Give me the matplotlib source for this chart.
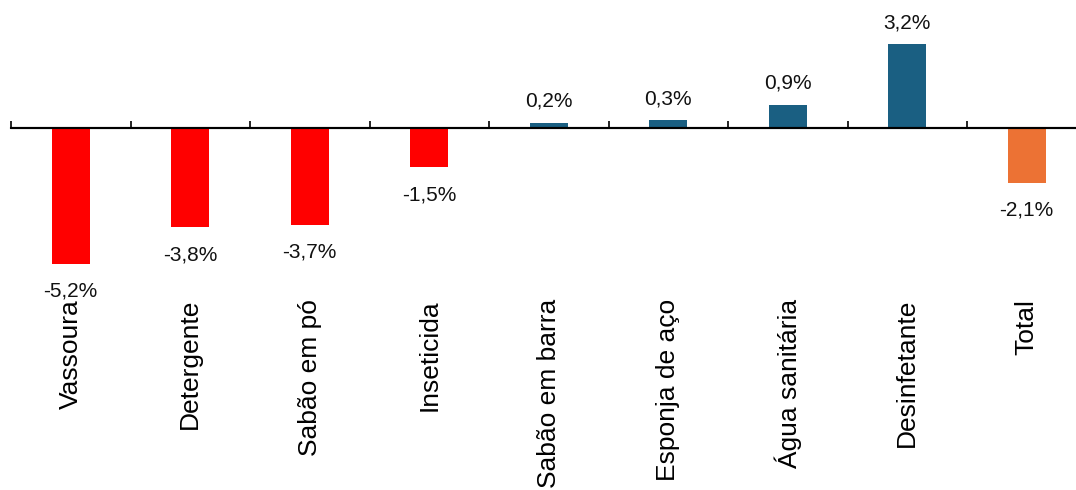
import matplotlib
matplotlib.use("Agg")
import matplotlib.pyplot as plt
from matplotlib.transforms import blended_transform_factory

categories = ["Vassoura", "Detergente", "Sabão em pó", "Inseticida", "Sabão em barra",
              "Esponja de aço", "Água sanitária", "Desinfetante", "Total"]
values = [-5.2, -3.8, -3.7, -1.5, 0.2, 0.3, 0.9, 3.2, -2.1]

RED = "#FF0000"
BLUE = "#1A5F82"
ORANGE = "#EC7234"

def bar_color(i, v):
    if categories[i] == "Total":
        return ORANGE
    return BLUE if v > 0 else RED

plt.rcParams['font.family'] = ['Liberation Sans', 'DejaVu Sans']

W, H = 1076, 490
fig = plt.figure(figsize=(W / 100, H / 100), dpi=100)

px_per_unit = 26.1
zero_px = 128
bottom_px = 290
ax_left = 11 / W
ax_width = 1075.5 / W
ax = fig.add_axes([ax_left, (H - bottom_px) / H, ax_width, bottom_px / H])
ax.set_xlim(-0.5, len(categories) - 0.5)
ax.set_ylim(-(bottom_px - zero_px) / px_per_unit, zero_px / px_per_unit)

x = list(range(len(categories)))
colors = [bar_color(i, v) for i, v in enumerate(values)]
ax.bar(x, values, width=0.32, color=colors, zorder=2)

for s in ["top", "right", "left", "bottom"]:
    ax.spines[s].set_visible(False)
ax.axhline(0, color="black", lw=1.5, zorder=3)

# tick marks at category boundaries, pointing up
ax.set_yticks([])
ax.set_xticks([i - 0.5 for i in range(len(categories) + 1)])
ax.set_xticklabels([])
ax.spines["bottom"].set_position(("data", 0))
ax.spines["bottom"].set_visible(True)
ax.spines["bottom"].set_linewidth(1.5)
ax.tick_params(axis="x", direction="in", length=5, width=1.2, color="black")

for i, v in enumerate(values):
    label = f"{v:.1f}%".replace(".", ",")
    if v >= 0:
        ax.annotate(label, (i, v), xytext=(0, 11.5), textcoords="offset points",
                    ha="center", va="baseline", fontsize=15, color="#111111")
    else:
        ax.annotate(label, (i, v), xytext=(0, -13), textcoords="offset points",
                    ha="center", va="top", fontsize=15, color="#111111")

trans = blended_transform_factory(ax.transData, fig.transFigure)
for i, c in enumerate(categories):
    ax.text(i, (H - 299) / H, c, transform=trans, rotation=90, ha="center", va="top",
            fontsize=19, color="black", clip_on=False)

fig.savefig("out.png", dpi=100)
